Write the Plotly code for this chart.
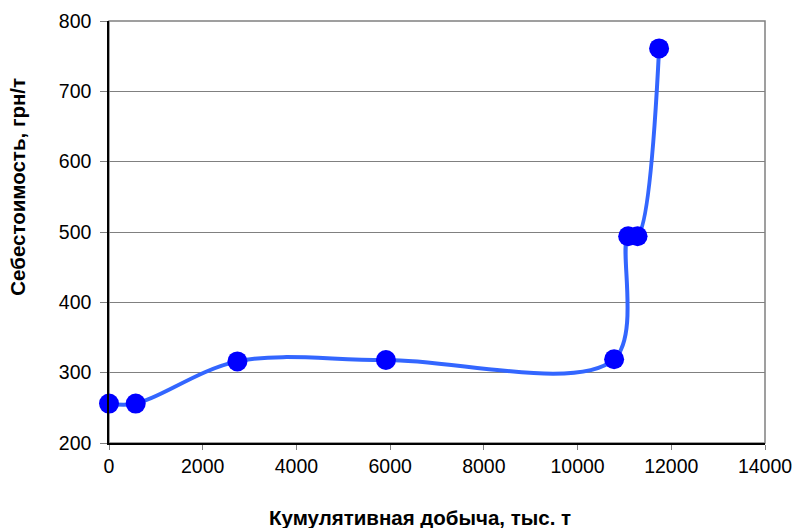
import plotly.graph_objects as go

# Data
cumulative_output = [0, 570, 2740, 5910, 10780, 11080, 11280, 11740]   # тыс. т
unit_cost = [256, 256, 316, 318, 319, 494, 494, 761]                    # грн/т

x_ticks = [0, 2000, 4000, 6000, 8000, 10000, 12000, 14000]
y_ticks = [200, 300, 400, 500, 600, 700, 800]

x_title = "Кумулятивная добыча, тыс. т"
y_title = "Себестоимость, грн/т"

fig = go.Figure()
fig.add_trace(go.Scatter(
    x=cumulative_output, y=unit_cost,
    mode="lines+markers",
    line=dict(color="#3366FF", width=4, shape="spline", smoothing=1),
    marker=dict(color="#0000FF", size=20),
    cliponaxis=False,
    showlegend=False,
))

axis_font = dict(family="Liberation Sans, Arial, sans-serif", size=19.5, color="#000000")
title_font = dict(family="Liberation Sans, Arial, sans-serif", size=20.5, color="#000000")

fig.update_layout(
    width=796, height=528,
    margin=dict(l=109, r=31, t=21, b=85, pad=0),
    paper_bgcolor="#FFFFFF",
    plot_bgcolor="#FFFFFF",
    xaxis=dict(
        range=[0, 14000], tickvals=x_ticks, ticktext=[str(v) for v in x_ticks],
        showgrid=False, zeroline=False, automargin=False,
        showline=True, linecolor="#000000", linewidth=1.5,
        ticks="outside", ticklen=5, tickcolor="#808080", tickwidth=1,
        tickfont=axis_font,
    ),
    yaxis=dict(
        range=[200, 800], tickvals=y_ticks, ticktext=[str(v) for v in y_ticks],
        showgrid=True, gridcolor="#808080", gridwidth=1,
        zeroline=False, automargin=False,
        showline=True, linecolor="#000000", linewidth=1.5,
        ticks="outside", ticklen=7, tickcolor="#808080", tickwidth=1,
        tickfont=axis_font, ticklabelstandoff=5,
    ),
    shapes=[dict(
        type="rect", xref="paper", yref="paper", x0=0, x1=1, y0=0, y1=1,
        line=dict(color="#808080", width=1.5), layer="below",
    )],
    annotations=[
        dict(text=f"<b>{x_title}</b>", xref="paper", yref="paper",
             x=0.4742, y=-0.176, showarrow=False, xanchor="center", yanchor="middle",
             font=title_font),
        dict(text=f"<b>{y_title}</b>", xref="paper", yref="paper",
             x=-0.1398, y=0.608, showarrow=False, xanchor="center", yanchor="middle",
             textangle=-90, font=title_font),
    ],
)

fig.write_html(
    "out.html",
    config={"displayModeBar": False, "responsive": False},
    post_script="document.body.style.margin='0';document.body.style.overflow='hidden';"
                "Plotly.relayout('{plot_id}', {width: 796, height: 528});",
)
